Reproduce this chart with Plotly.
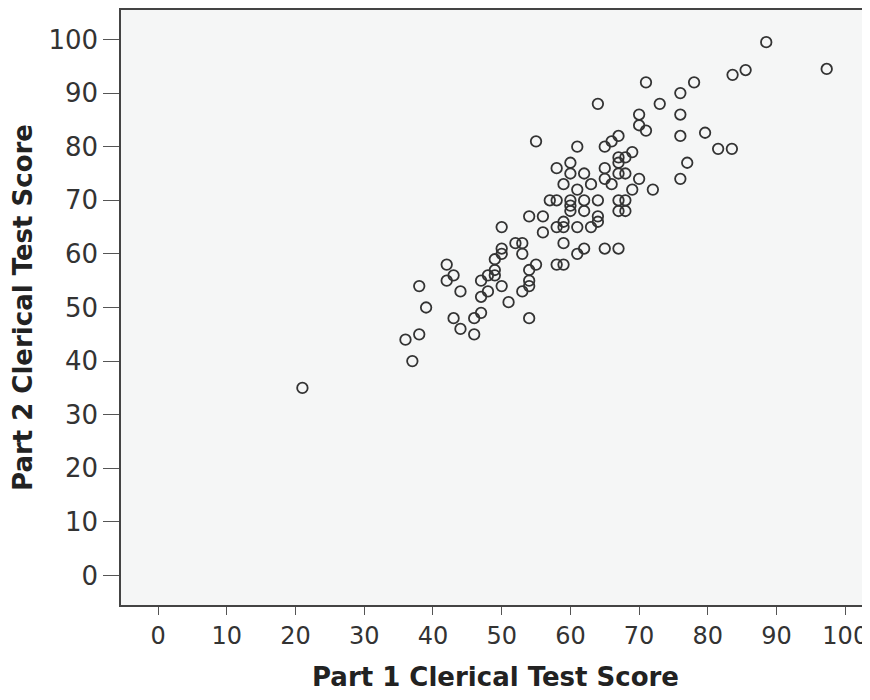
import plotly.graph_objects as go

# Part 1 / Part 2 clerical test scores
part1 = [21, 36, 37, 38, 38, 39, 42, 43, 42, 44, 43, 44, 46, 46, 47, 47, 47, 48, 49, 48,
         49, 49, 50, 50, 50, 50, 51, 52, 53, 53, 53, 54, 54, 54, 54, 54, 55, 56, 56,
         57, 58, 60, 62, 64, 67, 68, 60, 60, 62, 67, 68, 64, 64, 59, 59, 58, 61, 63,
         59, 62, 61, 65, 67, 58, 59,
         71, 78, 76, 64, 73, 70, 76, 70, 71, 76, 55, 67, 66, 65, 61, 69, 77, 67, 68, 67,
         60, 58, 65, 60, 62, 67, 68, 65, 70, 76, 59, 63, 66, 61, 69, 72,
         88.5, 97.3, 85.5, 83.6, 79.6, 81.5, 83.5]
part2 = [35, 44, 40, 45, 54, 50, 58, 56, 55, 53, 48, 46, 48, 45, 52, 49, 55, 56, 56, 53,
         57, 59, 65, 61, 60, 54, 51, 62, 62, 60, 53, 48, 67, 57, 55, 54, 58, 67, 64,
         70, 70, 70, 70, 70, 70, 70, 69, 68, 68, 68, 68, 67, 66, 66, 65, 65, 65, 65,
         62, 61, 60, 61, 61, 58, 58,
         92, 92, 90, 88, 88, 86, 86, 84, 83, 82, 81, 82, 81, 80, 80, 79, 77, 78, 78, 77,
         77, 76, 76, 75, 75, 75, 75, 74, 74, 74, 73, 73, 73, 72, 72, 72,
         99.5, 94.5, 94.3, 93.4, 82.6, 79.6, 79.6]

x_ticks = [0, 10, 20, 30, 40, 50, 60, 70, 80, 90, 100]
y_ticks = [0, 10, 20, 30, 40, 50, 60, 70, 80, 90, 100]

fig = go.Figure(go.Scatter(
    x=part1, y=part2, mode="markers",
    marker=dict(symbol="circle-open", size=10.5, color="#333333", line=dict(width=1.8, color="#333333")),
    showlegend=False,
))

# the page body adds an 8px margin, so the figure is sized/offset for that
fig.update_layout(
    width=862, height=684,
    margin=dict(l=113, r=0, t=0, b=87),
    paper_bgcolor="white",
    plot_bgcolor="#f5f6f6",
    font=dict(family="DejaVu Sans, sans-serif", color="#333333"),
)

fig.update_xaxes(
    range=[-5.4, 103.6], tickvals=x_ticks, ticktext=[str(v) for v in x_ticks],
    showgrid=False, zeroline=False,
    showline=True, linecolor="#444444", linewidth=1.5, mirror=True,
    ticks="outside", ticklen=8, tickcolor="#555555", tickwidth=1.3,
    tickfont=dict(size=24, color="#333333"),
    title=dict(text="<b>Part 1 Clerical Test Score</b>", font=dict(size=26, color="#222222"), standoff=23),
)
fig.update_yaxes(
    range=[-5.5, 105.5], tickvals=y_ticks, ticktext=[str(v) for v in y_ticks],
    showgrid=False, zeroline=False,
    showline=True, linecolor="#444444", linewidth=1.5, mirror=False,
    ticks="outside", ticklen=16, tickcolor="#555555", tickwidth=1.3,
    tickfont=dict(size=26, color="#333333"),
    title=dict(text="<b>Part 2 Clerical Test Score</b>", font=dict(size=26, color="#222222"), standoff=11),
)

fig.write_html("out.html")
